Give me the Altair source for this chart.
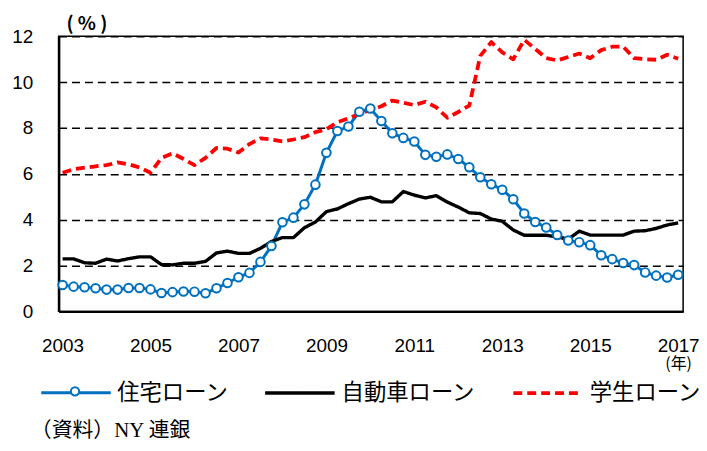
import altair as alt
import pandas as pd

# Quarterly series, 2003Q1 .. 2017Q1 (57 points), 90+ days delinquency share (%)
series_names = ["住宅ローン", "自動車ローン", "学生ローン"]
housing = [1.15, 1.08, 1.05, 1.01, 0.95, 0.95, 1.02, 1.02, 0.96, 0.80,
           0.84, 0.87, 0.86, 0.79, 1.01, 1.24, 1.49, 1.68, 2.16, 2.85,
           3.89, 4.09, 4.67, 5.53, 6.92, 7.87, 8.07, 8.71, 8.85, 8.31,
           7.77, 7.57, 7.41, 6.83, 6.75, 6.85, 6.65, 6.29, 5.85, 5.55,
           5.31, 4.89, 4.27, 3.90, 3.66, 3.33, 3.09, 3.02, 2.89, 2.45,
           2.28, 2.11, 2.02, 1.70, 1.56, 1.48, 1.60]
auto = [2.29, 2.29, 2.12, 2.10, 2.28, 2.20, 2.30, 2.38, 2.38, 2.04,
        2.03, 2.10, 2.10, 2.18, 2.55, 2.63, 2.53, 2.53, 2.75, 3.05,
        3.22, 3.22, 3.65, 3.90, 4.35, 4.47, 4.70, 4.90, 4.98, 4.78,
        4.78, 5.23, 5.07, 4.95, 5.05, 4.77, 4.55, 4.30, 4.27, 4.03,
        3.93, 3.55, 3.32, 3.32, 3.32, 3.25, 3.15, 3.50, 3.33, 3.33,
        3.33, 3.33, 3.50, 3.52, 3.62, 3.77, 3.86]
student = [6.05, 6.20, 6.27, 6.33, 6.38, 6.50, 6.42, 6.28, 6.05, 6.70,
           6.90, 6.65, 6.38, 6.70, 7.13, 7.10, 6.93, 7.30, 7.55, 7.50,
           7.42, 7.50, 7.60, 7.82, 7.95, 8.25, 8.42, 8.62, 8.78, 8.95,
           9.20, 9.10, 9.00, 9.15, 8.90, 8.45, 8.70, 8.98, 11.15, 11.75,
           11.30, 11.00, 11.85, 11.45, 11.05, 10.95, 11.10, 11.25, 11.05, 11.40,
           11.55, 11.55, 11.05, 11.00, 10.98, 11.20, 11.02]
start_year = 2003
x_ticks = [2003, 2005, 2007, 2009, 2011, 2013, 2015, 2017]
y_ticks = [0, 2, 4, 6, 8, 10, 12]
source_text = "（資料）NY 連銀"

colors = ["#0070C0", "#000000", "#FF0000"]
dashes = [[1, 0], [1, 0], [9, 5]]
widths = [3, 3.8, 3.5]

rows = []
for name, vals in zip(series_names, [housing, auto, student]):
    for i, v in enumerate(vals):
        rows.append({"series": name, "t": start_year + i * 0.25, "v": v})
df = pd.DataFrame(rows)

W, H = 629, 277
xscale = alt.Scale(domain=[2002.91, 2017.113], nice=False, zero=False)
yscale = alt.Scale(domain=[0, 12], nice=False)

legend = alt.Legend(
    title=None, orient="none", legendX=-19, legendY=322, direction="horizontal",
    symbolType="stroke", symbolSize=4900, symbolStrokeWidth=4,
    labelFont="Noto Sans CJK JP", labelFontSize=22.5, labelColor="black",
    labelOffset=5, columnPadding=29, labelLimit=300, padding=0,
)

x_enc = alt.X("t:Q", scale=xscale, axis=alt.Axis(
    values=x_ticks, format="d", grid=False, ticks=False, labelPadding=25,
    labelFontSize=19, labelFont="Liberation Sans", labelColor="black",
    domainColor="black", domainWidth=2.5,
    title="(年)", titleX=624, titleY=58, titleAlign="center",
    titleBaseline="alphabetic", titleFont="Noto Sans CJK JP", titleFontSize=16,
    titleFontWeight="normal", titleColor="black"))
y_enc = alt.Y("v:Q", scale=yscale, axis=alt.Axis(
    values=y_ticks, grid=True, gridColor="black", gridDash=[8, 5], gridWidth=1.5,
    ticks=False, labelPadding=26, labelFontSize=19, labelFont="Liberation Sans",
    labelColor="black", domainColor="black", domainWidth=2.5,
    title="( % )", titleAngle=0, titleX=28, titleY=-7, titleAlign="center",
    titleBaseline="alphabetic", titleFont="Noto Sans CJK JP", titleFontSize=19,
    titleFontWeight="bold", titleColor="black"))

lines = alt.Chart(df).mark_line(strokeJoin="round").encode(
    x=x_enc,
    y=y_enc,
    color=alt.Color("series:N", scale=alt.Scale(domain=series_names, range=colors),
                    legend=legend),
    strokeDash=alt.StrokeDash("series:N", scale=alt.Scale(domain=series_names, range=dashes),
                              legend=legend),
    strokeWidth=alt.StrokeWidth("series:N", scale=alt.Scale(domain=series_names, range=widths),
                                legend=None),
)

# circle markers on the housing series; its one-entry legend puts the marker
# on top of the housing legend line
points = alt.Chart(df).transform_filter(
    alt.datum.series == series_names[0]
).transform_calculate(m="'marker'").mark_point(
    shape="circle", filled=True, fill="white", strokeWidth=2, size=75, opacity=1
).encode(
    x=alt.X("t:Q", scale=xscale),
    y=alt.Y("v:Q", scale=yscale),
    stroke=alt.Stroke("m:N", scale=alt.Scale(range=[colors[0]]), legend=alt.Legend(
        title=None, orient="none", legendX=11, legendY=352, labelExpr="''",
        symbolType="circle", symbolFillColor="white", symbolStrokeWidth=2,
        symbolSize=70, symbolOpacity=1, padding=0)),
)

source = alt.Chart(pd.DataFrame({"s": [source_text]})).mark_text(
    align="left", baseline="middle", fontSize=21,
    font="Liberation Serif, Noto Sans CJK JP", color="black"
).encode(text="s:N", x=alt.value(-28), y=alt.value(398))

chart = alt.layer(lines, points, source).properties(
    width=W, height=H,
    autosize=alt.AutoSizeParams(type="none"),
    padding={"left": 51, "top": 27, "right": 16, "bottom": 131},
).configure_view(stroke="black", strokeWidth=1.5)

chart.save("out.html", embed_options={"renderer": "svg", "actions": False})
